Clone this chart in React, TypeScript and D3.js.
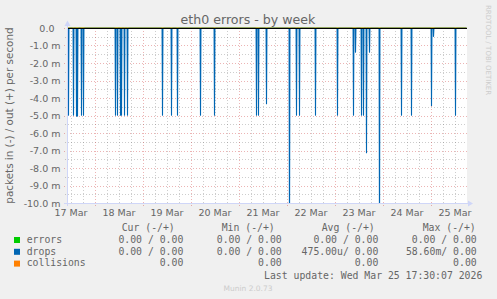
import React from "react";
import * as d3 from "d3";

const W = 497;
const H = 299;

const chartTitle = "eth0 errors - by week";
const yAxisTitle = "packets in (-) / out (+) per second";
const sideText = "RRDTOOL / TOBI OETIKER";
const footerText = "Munin 2.0.73";
const lastUpdate = "Last update: Wed Mar 25 17:30:07 2026";

const startTime = "2026-03-17T10:00:00Z";
const endTime = "2026-03-25T18:00:00Z";
const sampleMinutes = 30;

const dayLabels = ["17 Mar", "18 Mar", "19 Mar", "20 Mar", "21 Mar", "22 Mar", "23 Mar", "24 Mar", "25 Mar"];
const dayLabelTimes = [
  "2026-03-17T12:00:00Z", "2026-03-18T12:00:00Z", "2026-03-19T12:00:00Z",
  "2026-03-20T12:00:00Z", "2026-03-21T12:00:00Z", "2026-03-22T12:00:00Z",
  "2026-03-23T12:00:00Z", "2026-03-24T12:00:00Z", "2026-03-25T12:00:00Z",
];

// drops (in direction, plotted negative), packets/s; all other samples are 0
const dropTimes = [
  "2026-03-17T10:30:00Z", "2026-03-17T13:00:00Z", "2026-03-17T14:30:00Z", "2026-03-17T15:00:00Z",
  "2026-03-17T17:00:00Z", "2026-03-17T18:00:00Z",
  "2026-03-18T10:00:00Z", "2026-03-18T11:00:00Z", "2026-03-18T12:30:00Z", "2026-03-18T13:00:00Z",
  "2026-03-18T14:30:00Z", "2026-03-18T16:00:00Z",
  "2026-03-19T09:30:00Z", "2026-03-19T14:00:00Z", "2026-03-19T17:00:00Z",
  "2026-03-20T04:30:00Z", "2026-03-20T11:30:00Z",
  "2026-03-21T08:30:00Z", "2026-03-21T09:30:00Z", "2026-03-21T13:30:00Z",
  "2026-03-22T01:00:00Z", "2026-03-22T04:30:00Z", "2026-03-22T06:00:00Z", "2026-03-22T14:00:00Z",
  "2026-03-23T01:00:00Z", "2026-03-23T09:00:00Z", "2026-03-23T10:00:00Z", "2026-03-23T13:00:00Z",
  "2026-03-23T14:00:00Z", "2026-03-23T15:30:00Z", "2026-03-23T17:00:00Z", "2026-03-23T22:00:00Z",
  "2026-03-24T09:00:00Z", "2026-03-24T14:00:00Z",
  "2026-03-25T00:00:00Z", "2026-03-25T01:00:00Z", "2026-03-25T12:00:00Z",
];
const dropValues = [
  -0.005, -0.005, -0.00505, -0.00505,
  -0.005, -0.005,
  -0.005, -0.005, -0.005, -0.005,
  -0.005, -0.005,
  -0.005, -0.005, -0.005,
  -0.005, -0.005,
  -0.005, -0.005, -0.00435,
  -0.012, -0.005, -0.005, -0.005,
  -0.005, -0.005, -0.0014, -0.005,
  -0.005, -0.00715, -0.0014, -0.012,
  -0.005, -0.005,
  -0.00446, -0.0005, -0.005,
];

const yMin = -0.01;
const yMax = 0;
const yMajorTicks = [0, -0.001, -0.002, -0.003, -0.004, -0.005, -0.006, -0.007, -0.008, -0.009, -0.01];
const yMinorTicks = [-0.0005, -0.0015, -0.0025, -0.0035, -0.0045, -0.0055, -0.0065, -0.0075, -0.0085, -0.0095];

const seriesNames = ["errors", "drops", "collisions"];
const seriesColors = ["#00cc00", "#0066b3", "#ff8000"];
const colHeaders = ["Cur (-/+)", "Min (-/+)", "Avg (-/+)", "Max (-/+)"];
const curCol = ["0.00 / 0.00", "0.00 / 0.00", "0.00"];
const minCol = ["0.00 / 0.00", "0.00 / 0.00", "0.00"];
const avgCol = ["0.00 / 0.00", "475.00u/ 0.00", "0.00"];
const maxCol = ["0.00 / 0.00", "58.60m/ 0.00", "0.00"];

const PL = 67, PR = 467, PT = 28, PB = 203;
const FONT = "'DejaVu Sans', sans-serif";
const MONO = "'DejaVu Sans Mono', monospace";
const TXT = "#666666";
const AXIS = "#CFD6F8";
const GRID = "rgba(90,90,90,0.3)";
const MGRID = "rgba(200,40,40,0.35)";

export default function App() {
  const t0 = new Date(startTime);
  const t1 = new Date(endTime);
  const x = d3.scaleUtc().domain([t0, t1]).range([PL, PR]);
  const y = d3.scaleLinear().domain([yMin, yMax]).range([PB, PT]);

  const dropMap = new Map<number, number>();
  dropTimes.forEach((t, i) => dropMap.set(new Date(t).getTime(), dropValues[i]));
  const samples = d3.utcMinute.every(sampleMinutes)!.range(t0, t1);
  const dropsSeries = samples.map((d) => ({ t: d, v: dropMap.get(d.getTime()) ?? 0 }));
  const zeroSeries = samples.map((d) => ({ t: d, v: 0 }));
  const spikes = dropTimes.map((t, i) => ({ t: new Date(t), v: dropValues[i] }));

  const line = d3
    .line<{ t: Date; v: number }>()
    .x((d) => x(d.t) + 0.5)
    .y((d) => y(d.v));

  const minorX = d3.utcHour.every(6)!.range(t0, t1).filter((d) => d.getUTCHours() !== 0);
  const majorX = d3.utcDay.range(t0, t1);

  const fmtY = (v: number) => (v === 0 ? "0.0  " : `${(v * 1000).toFixed(1)} m`);

  const legendBase = [242.7, 254.5, 266.3];
  const colRight = [183.3, 281.7, 378.3, 476.7];
  const headerStart = [121.7, 221.7, 321.7, 422.7];
  const cols = [curCol, minCol, avgCol, maxCol];

  return (
    <svg width={W} height={H} style={{ display: "block", position: "absolute", left: 0, top: 0 }}>
      <rect x={0} y={0} width={W} height={H} fill="#f0f0f0" />
      <rect x={PL} y={PT} width={PR - PL} height={PB - PT} fill="#ffffff" />

      {/* minor grid */}
      <g stroke={GRID} strokeWidth={1} strokeDasharray="1,2" shapeRendering="crispEdges">
        {minorX.map((d, i) => (
          <line key={"mx" + i} x1={Math.round(x(d)) + 0.5} x2={Math.round(x(d)) + 0.5} y1={PT} y2={PB + 2} />
        ))}
        {yMinorTicks.map((v, i) => (
          <line key={"my" + i} x1={PL - 2} x2={PR} y1={Math.round(y(v)) + 0.5} y2={Math.round(y(v)) + 0.5} />
        ))}
      </g>
      {/* major grid */}
      <g stroke={MGRID} strokeWidth={1} strokeDasharray="1,2" shapeRendering="crispEdges">
        {majorX.map((d, i) => (
          <line key={"Mx" + i} x1={Math.round(x(d)) + 0.5} x2={Math.round(x(d)) + 0.5} y1={PT} y2={PB + 3} />
        ))}
        {yMajorTicks.map((v, i) => (
          <line key={"My" + i} x1={PL - 3} x2={PR} y1={Math.round(y(v)) + 0.5} y2={Math.round(y(v)) + 0.5} />
        ))}
      </g>

      <defs>
        <clipPath id="plotclip">
          <rect x={PL} y={PT - 1} width={PR - PL} height={PB - PT + 1} />
        </clipPath>
      </defs>
      <g clipPath="url(#plotclip)" fill="none" strokeWidth={1}>
        <path d={line(zeroSeries) || ""} stroke={seriesColors[0]} />
        <path d={line(zeroSeries) || ""} stroke={seriesColors[2]} />
        <path d={line(dropsSeries) || ""} stroke={seriesColors[1]} strokeOpacity={0.45} />
        {spikes.map((s, i) => (
          <line
            key={"sp" + i}
            x1={x(s.t) + 0.5}
            x2={x(s.t) + 0.5}
            y1={y(0)}
            y2={y(s.v)}
            stroke={seriesColors[1]}
            strokeWidth={1.1}
          />
        ))}
      </g>
      <line x1={PL} x2={PR} y1={y(0) + 0.5} y2={y(0) + 0.5} stroke="#000" strokeWidth={1} />

      {/* axes */}
      <line x1={PL - 3} x2={PR + 2} y1={PB + 0.5} y2={PB + 0.5} stroke={AXIS} strokeWidth={1} />
      <line x1={PL + 0.5} x2={PL + 0.5} y1={PB + 3} y2={PT - 4} stroke={AXIS} strokeWidth={1} />
      <path d={`M${PR + 6},${PB + 0.5} L${PR + 1},${PB - 2.5} L${PR + 1},${PB + 3.5} Z`} fill={AXIS} />
      <path d={`M${PL + 0.5},${PT - 7.5} L${PL - 2.5},${PT - 2} L${PL + 3.5},${PT - 2} Z`} fill={AXIS} />

      {/* y labels */}
      <g fontFamily={FONT} fontSize={9.5} fill={TXT} textAnchor="end">
        {yMajorTicks.map((v, i) => (
          <text key={"yl" + i} x={60.5} y={y(v) + 3.5} xmlSpace="preserve" style={{ whiteSpace: "pre" }}>
            {fmtY(v)}
          </text>
        ))}
      </g>
      {/* x labels */}
      <g fontFamily={FONT} fontSize={9.5} fill={TXT} textAnchor="middle">
        {dayLabels.map((s, i) => (
          <text key={"xl" + i} x={x(new Date(dayLabelTimes[i]))} y={216}>
            {s}
          </text>
        ))}
      </g>

      <text x={248} y={23.5} fontFamily={FONT} fontSize={12.6} fill={TXT} textAnchor="middle">
        {chartTitle}
      </text>
      <text
        transform={`translate(12.5,${(PT + PB) / 2}) rotate(-90)`}
        fontFamily={FONT}
        fontSize={10.4}
        fill={TXT}
        textAnchor="middle"
      >
        {yAxisTitle}
      </text>
      <text
        transform={`translate(485.5,5) rotate(90)`}
        fontFamily={FONT}
        fontSize={7}
        fill="#cccccc"
        textAnchor="start"
      >
        {sideText}
      </text>

      {/* legend */}
      <g fontFamily={MONO} fontSize={9.8} fill={TXT}>
        {colHeaders.map((h, i) => (
          <text key={"h" + i} x={headerStart[i]} y={230.5} xmlSpace="preserve" style={{ whiteSpace: "pre" }}>
            {h}
          </text>
        ))}
        {seriesNames.map((n, r) => (
          <g key={"row" + r}>
            <rect x={14} y={legendBase[r] - 5.7} width={6} height={6} fill={seriesColors[r]} />
            <text x={26.7} y={legendBase[r]}>{n}</text>
            {cols.map((c, ci) => (
              <text
                key={"c" + ci}
                x={colRight[ci]}
                y={legendBase[r]}
                textAnchor="end"
                xmlSpace="preserve"
                style={{ whiteSpace: "pre" }}
              >
                {c[r]}
              </text>
            ))}
          </g>
        ))}
        <text x={482.3} y={278.5} textAnchor="end" xmlSpace="preserve" style={{ whiteSpace: "pre" }}>
          {lastUpdate}
        </text>
      </g>
      <text x={248} y={291} fontFamily={FONT} fontSize={7.5} fill="#cccccc" textAnchor="middle">
        {footerText}
      </text>
    </svg>
  );
}
